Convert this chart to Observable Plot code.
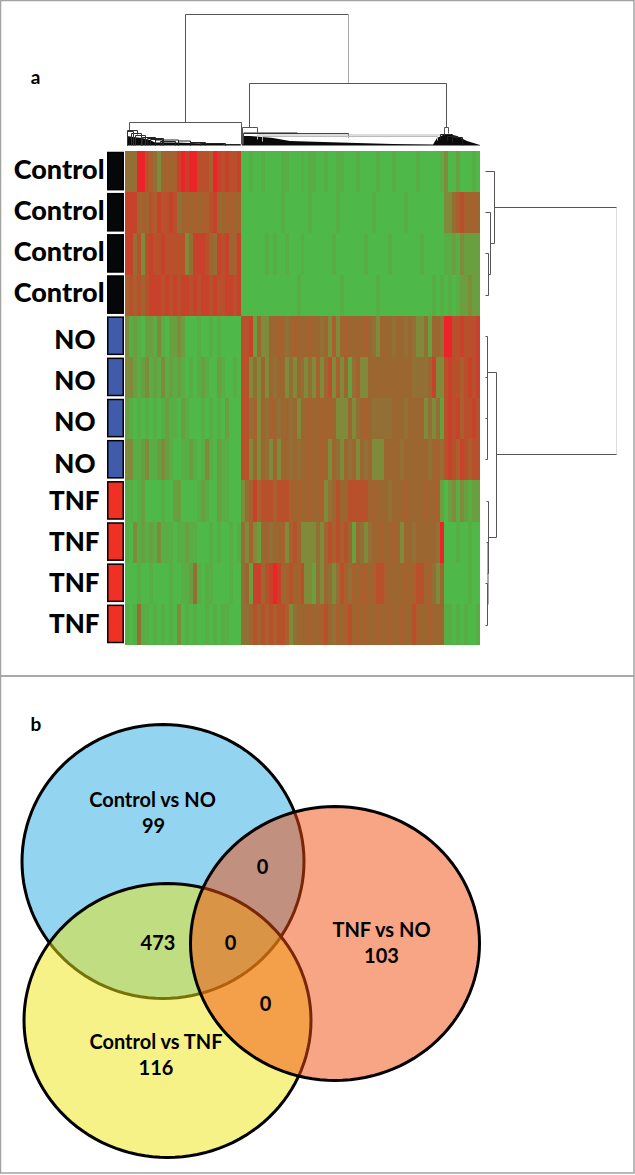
<!DOCTYPE html>
<html>
<head>
<meta charset="utf-8">
<script src="https://cdn.jsdelivr.net/npm/d3@7"></script>
<script src="https://cdn.jsdelivr.net/npm/@observablehq/plot@0.6"></script>
<style>
html,body{margin:0;padding:0;background:#fff}
#page{position:relative;width:635px;height:1175px;overflow:hidden}
#page svg{position:absolute;left:0;top:0;display:block}
</style>
</head>
<body>
<div id="page"></div>
<script>
// ---- heat map: one digit per column block, 0 = green (down) ... 9 = red (up)
const sampleNames = ["Control","Control","Control","Control","NO","NO","NO","NO","TNF","TNF","TNF","TNF"];
const heatLeft = [
  "444 99 76 43 5 656 89899 777 6 98 78778",
  "888 56 576 877 87 45 656566 78 556 656",
  "88 4 7 3 787787777 7 34 8887 54 878 568",
  "67675 78887878 7 887878878778878",
  "3 1 2 1 0 2 2 1 3 1 0 2 2 3 2 00010010100000",
  "3321231213 1212101012 100210010",
  "2101010101 2110210001 010102000",
  "3311231123 2100112101 310211000",
  "1101200001 0022000012 100211000",
  "1031212131 1101121100 010100101",
  "0001001000 0100112410 110000100",
  "1014110101 0103010100 101011000"
];
const heatMiddle = [
  "0010010000 1100010110 0100110001 0000100010 0000100000 1",
  "0000000000 1000000100 0000100000 0001000000 0100000000 0",
  "0000001010 0100010000 0001000000 0100000100 0000010000 0",
  "0000000000 0000100000 0000010000 0000100000 0000000010 1",
  "7782533556 545655 5655 4 5 3 6 3 5 6 5 5 5 5 6 5 4 3 5 5 5 4 5 5 4 5 4 3 3 4 2 5 5 4",
  "7734353545 534354 3436 3 5 7 3 6 3 5 2 4 6 3 3 5 5 5 5 5 5 5 5 5 5 5 4 4 4 4 5 8 3 3",
  "7746354654 554535 5655 6565 333 5 34 565 44444 55545555 3434 2",
  "7735354353 554545 565565 3 5435 453545 333 5555455555545 64",
  "3468677767 776565 56556 34 5755 77777 565554555655556556 2",
  "4363255455 636753 33343 576767 5 2 5434 5565565 3 55455555 4 9",
  "4528857898 567567 3 324 354 34 76 46 56656 7765 555656 77 5643 5",
  "4457576767 763455 5655675465 6756565565 5655655765 56555"
];
const heatRight = [
  "300200010",
  "334676565",
  "112132222",
  "010122322",
  "997787778",
  "787767878",
  "787867787",
  "787687677",
  "023132122",
  "000100100",
  "000000100",
  "110101001"
];
const heatLevels = [0,1,2,3,4,5,6,7,8,9];
const heatColors = ["#4eb848","#58ae45","#6a9f40","#7f8a3a","#926f35","#9c6630","#a95f2e","#b8502b","#c8412a","#ec2427"];

// ---- sample annotation strip
const sampleGroups = ["Control","NO","TNF"];
const groupColors = ["#050708","#3f5ba9","#ee3124"];

// ---- Venn diagram: overlapping sets and the counts printed in the regions
const vennSets = ["Control vs NO","Control vs TNF","TNF vs NO"];
const vennFill = ["#27abe3","#ede511","#f14b0b"];
const vennCx = [162.5,167,334.5];
const vennCy = [861,1020,943];
const vennRx = [141,143.5,144.5];
const vennRy = [137,137,137];
const vennLabels = ["Control vs NO","99","Control vs TNF","116","TNF vs NO","103"];
const vennLabelX = [152,153,155.5,155.5,381,381];
const vennLabelY = [800,826,1042,1068,930,956];
const vennCounts = ["0","473","0","0"];
const vennCountX = [262,157.5,230,265];
const vennCountY = [867,943,943,1004];

// ---- dendrograms (figure units), one entry per merge
const colMergeLeft  = [185,249,129,242,243,444,127,127,131,135,142,147,150,155,160,178,190,200,225,257,262,440,447,452,243];
const colMergeRight = [348,446,241,257,348,448,137,133,141,145,155,163,162,178,175,190,205,225,240,440,437,452,457,462,297];
const colMergeTop   = [14,83,122,127,133,127,130,131,133,135,137,138,139,139.5,141,140.5,142,143,144,134.5,136,134,136,137,132.5];
const colLegLeft    = [122,127,130,144,144,135,145,145,145,145,145,145,145,145,145,145,145,145,145,139,141,139,140,142,132.5];
const colLegRight   = [83,127,144,132,137,133,134,145,145,145,145,145,145,145,145,145,145,145,145,137,140,136,138,145,132.5];
const colMergeTone  = ["#555","#555","#555","#555","#444","#555","#333","#333","#333","#333","#222","#222","#222","#222","#222","#222","#222","#222","#222","#bbb","#bbb","#222","#222","#222","#222"];
const rowMergeX      = [616,494,490,488,496,487,487,488,487.5,487];
const rowMergeTop    = [207,171,212,253,372,336,377,501,542,583];
const rowMergeBottom = [454,243,274,295,537,459,418,573,604,625];
const rowLegTop      = [494,485,485,485,487,485,485,486,486,485];
const rowLegBottom   = [496,490,488,485,488,485,485,487,487,485];
const massCluster = ["left","left","left","left","left","left","left","left","left","left","rest","rest","rest","rest","rest","rest","rest","rest","rest","rest","rest","rest","rest","rest"];
const massX   = [127,133,142,150,155,175,189,205,222,240,242,250,273,290,323,357,393,433,437,443,453,457,467,480];
const massTop = [136,137,138,140,142.5,142.5,143,143.5,144,145,136,136,138,141,142,143,144,144.5,138,135,135,136,141,145];

// ---- panel letters
const panelLetters = ["a","b"];
const panelLetterX = [35,35.5];
const panelLetterY = [77,724];

// ---- table building
const heatRows = sampleNames.map((_, r) => (heatLeft[r] + heatMiddle[r] + heatRight[r]).replace(/ /g,""));
const heatCells = heatRows.flatMap((s, r) => Array.from(s, (d, c) => ({row:r, col:c, level:+d})));
const nCols = 89;
const rowIds = sampleNames.map((_, i) => i);
const samples = sampleNames.map((name, row) => ({row, name}));

const colSegments = colMergeLeft.flatMap((x1, i) => {
  const x2 = colMergeRight[i], top = colMergeTop[i], tone = colMergeTone[i];
  return [
    {x1, x2, y1:top, y2:top, tone},
    {x1, x2:x1, y1:top, y2:colLegLeft[i], tone},
    {x1:x2, x2, y1:top, y2:colLegRight[i], tone: i === 0 ? "#aaa" : tone}
  ];
});
const rowSegments = rowMergeX.flatMap((x, i) => {
  const a = rowMergeTop[i], b = rowMergeBottom[i];
  return [
    {x1:x, x2:x, y1:a, y2:b, tone:"#555"},
    {x1:rowLegTop[i], x2:x, y1:a, y2:a, tone:"#555"},
    {x1:rowLegBottom[i], x2:x, y1:b, y2:b, tone:"#555"}
  ];
});
rowSegments[0].tone = "#ddd";
const mass = massX.map((x, i) => ({x, top:massTop[i], base:145.5, cluster:massCluster[i]}));
const ellipse = i => d3.range(0, 360, 3).map(a => ({
  x: vennCx[i] + vennRx[i] * Math.cos(a * Math.PI / 180),
  y: vennCy[i] + vennRy[i] * Math.sin(a * Math.PI / 180)
}));
const font = "Lato, 'Open Sans', sans-serif";
const label = (data, opts) => Plot.text(data, {fontFamily:font, fontWeight:700, fill:"#000", lineAnchor:"middle", ...opts});

// ---- figure layer: panel frames, dendrograms, Venn diagram, letters
const figure = Plot.plot({
  width:635, height:1175, margin:0,
  x:{type:"linear", domain:[0,635], range:[0,635], axis:null},
  y:{type:"linear", domain:[0,1175], range:[0,1175], axis:null},
  marks:[
    Plot.rect([{x1:0.5,x2:634,y1:0.5,y2:676},{x1:0.5,x2:634,y1:676,y2:1173}], {x1:"x1",x2:"x2",y1:"y1",y2:"y2",fill:"none",stroke:"#a3a3a3",strokeWidth:1.5}),
    Plot.area(mass, {x1:"x", y1:"top", y2:"base", z:"cluster", fill:"#0a0a0a"}),
    Plot.link(colSegments, {x1:"x1", x2:"x2", y1:"y1", y2:"y2", stroke:"tone", strokeWidth:1}),
    Plot.link(rowSegments, {x1:"x1", x2:"x2", y1:"y1", y2:"y2", stroke:"tone", strokeWidth:1}),
    ...vennSets.map((s, i) => Plot.line(ellipse(i), {x:"x", y:"y", curve:"linear-closed", fill:vennFill[i], fillOpacity:0.5, stroke:"#000", strokeWidth:3})),
    label(vennLabels, {x:(d,i)=>vennLabelX[i], y:(d,i)=>vennLabelY[i], text:d=>d, fontSize:20}),
    label(vennCounts, {x:(d,i)=>vennCountX[i], y:(d,i)=>vennCountY[i], text:d=>d, fontSize:20}),
    label(panelLetters, {x:(d,i)=>panelLetterX[i], y:(d,i)=>panelLetterY[i], text:d=>d, fontSize:19})
  ]
});

// ---- heat map
const heat = Plot.plot({
  width:480, height:676, marginLeft:125, marginRight:0, marginTop:151, marginBottom:31,
  style:{background:"transparent", filter:"blur(0.7px)"},
  x:{type:"band", domain:d3.range(nCols), padding:0, round:false, axis:null},
  y:{type:"band", domain:rowIds, padding:0, round:false, axis:null},
  color:{type:"ordinal", domain:heatLevels, range:heatColors},
  marks:[Plot.cell(heatCells, {x:"col", y:"row", fill:"level", shapeRendering:"crispEdges"})]
});

// ---- annotation strip and sample names
const strip = Plot.plot({
  width:124, height:676, marginLeft:107, marginRight:0, marginTop:151, marginBottom:31,
  style:{background:"transparent"},
  x:{type:"band", domain:["group"], padding:0, round:false, axis:null},
  y:{type:"band", domain:rowIds, padding:0, round:false, axis:null},
  color:{type:"ordinal", domain:sampleGroups, range:groupColors},
  marks:[
    Plot.cell(samples, {x:()=>"group", y:"row", fill:"name", stroke:"#000", strokeWidth:1.5, insetTop:1.5, insetBottom:2.5, insetLeft:0.75, insetRight:0.75}),
    label(samples.filter(d=>d.name==="Control"), {y:"row", text:"name", frameAnchor:"left", textAnchor:"end", dx:-3, dy:-2, fontSize:27, fontWeight:900}),
    label(samples.filter(d=>d.name==="NO"), {y:"row", text:"name", frameAnchor:"left", textAnchor:"end", dx:-12, dy:4, fontSize:26, fontWeight:900}),
    label(samples.filter(d=>d.name==="TNF"), {y:"row", text:"name", frameAnchor:"left", textAnchor:"end", dx:-8, dy:0, fontSize:26, fontWeight:900})
  ]
});

document.getElementById("page").append(figure, heat, strip);
</script>
</body>
</html>
